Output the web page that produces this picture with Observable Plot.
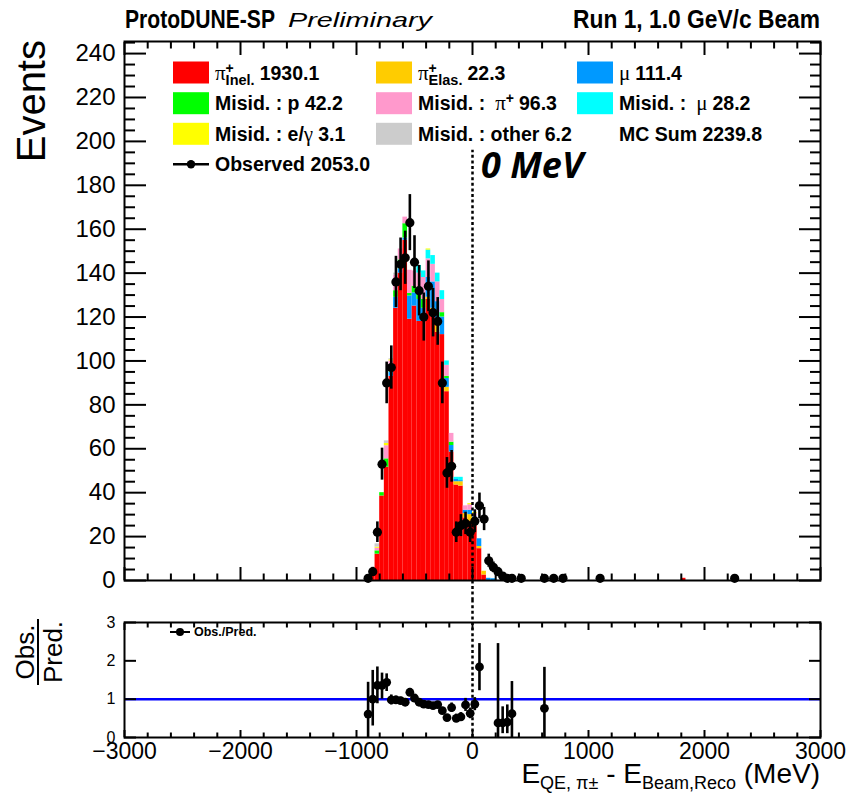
<!DOCTYPE html>
<html>
<head>
<meta charset="utf-8">
<script src="https://cdn.jsdelivr.net/npm/d3@7"></script>
<script src="https://cdn.jsdelivr.net/npm/@observablehq/plot@0.6"></script>
<style>
  html, body { margin: 0; padding: 0; background: #fff; }
  #fig { position: relative; width: 846px; height: 797px; overflow: hidden; background: #fff; }
  #fig svg { position: absolute; left: 0; }
</style>
</head>
<body>
<div id="fig"></div>
<script>
// ---- simulated events per 40 MeV bin (bin centres in MeV) ----
const mcBins   = [-900,-860,-820,-780,-740,-700,-660,-620,-580,-540,-500,-460,-420,-380,-340,-300,-260,-220,-180,-140,-100,-60,-20,20,60,100,140,180,1820];
const piInel   = [1.6,3.5,12,38.5,51.6,93,124,140,155,119,125,118,118,128,122,113,112,86,58.5,43.5,43,28.5,27,26,14.5,2.5,0,0,1];
const piElas   = [0,0,0,0,0,0,0,0,0,0,0,0,0,1,2,4,0,2,0,1.5,2,2,3,1.5,1,1.7,0,0,0];
const muon     = [0,0,0,0,0,2,5,2,1,10.6,6,10,6,9,12,10,8,4,3,1,0.5,1.5,2,1.5,3.5,0,1,0.8,0];
const misidP   = [0,0,1.5,1.5,3.8,2,3,4,6.5,1.2,3,3,4,0,0,0,2,1,1.5,0,0,0,0,0,0,0,0,0,0];
const misidPi  = [0,0,1.2,0,6,3,7,5,3,10.5,7,9,10,8.5,8,9,6,5,4,0,0,2,2.5,1.5,0,0,0,0,0];
const misidMu  = [0,0,0,0,0,0,0,0,0,0,0,3.5,3,4,4,4,4,2,0,1,1.5,0,0,0,0,0,0,0,0];
const misidEG  = [0,0,0.5,0,1,0.5,0,0,0,0,0,0,0,0.5,0,0,0,0,0,0,0,0,0.5,0.5,0,0,0,0,0];
const misidOth = [0,0.5,1.5,0,1.2,0.5,1,0,0,0,0,0,0,0,0,0,0,0,0,0,0,0,0,0,0,0,0,0,0];

const compKeys   = ["piInel","piElas","muon","misidP","misidPi","misidMu","misidEG","misidOth"];
const compSeries = [piInel, piElas, muon, misidP, misidPi, misidMu, misidEG, misidOth];
const compColors = ["#ff0000","#ffcc00","#0099ff","#00ff00","#ff99cc","#00ffff","#ffff00","#cccccc"];

// ---- observed events ----
const obsBins   = [-900,-860,-820,-780,-740,-700,-660,-620,-580,-540,-500,-460,-420,-380,-340,-300,-260,-220,-180,-140,-100,-60,-20,20,60,100,140,180,220,260,300,340,420,620,700,780,1100,2260];
const obsCounts = [1,4,22,53,90,97,136,144,147,163,145,132,120,134,122,118,90,49,52,22,25,26,22,27,34,28,9,6,4,2,1,1,1,1,1,1,1,1];

// ---- observed / predicted ratio ----
const ratioBins = [-900,-860,-820,-780,-740,-700,-660,-620,-580,-540,-500,-460,-420,-380,-340,-300,-260,-220,-180,-140,-100,-60,-20,20,60,220,260,300,340,620];
const ratioVal  = [0.61,1.0,1.36,1.36,1.44,0.98,0.98,0.96,0.92,1.18,1.03,0.92,0.87,0.86,0.83,0.86,0.70,0.52,0.78,0.50,0.54,0.85,0.63,0.87,1.84,0.38,0.38,0.40,0.62,0.76];
const ratioLo   = [0,0.3,0.88,1.0,1.2,0.85,0.88,0.87,0.84,1.08,0.94,0.84,0.79,0.78,0.75,0.78,0.62,0.44,0.66,0.39,0.43,0.68,0.49,0.70,1.22,0,0.1,0.1,0,0];
const ratioHi   = [1.44,1.75,1.84,1.68,1.66,1.11,1.08,1.05,1.0,1.28,1.12,1.0,0.95,0.94,0.91,0.94,0.78,0.60,0.90,0.61,0.65,1.02,0.77,1.04,2.45,2.45,0.8,0.85,1.46,1.83];

// ---- axis ticks ----
const xMajor = d3.range(-3000, 3001, 1000);
const xMinor = d3.range(-3000, 3001, 200).filter(v => v % 1000 !== 0);
const yMajor = d3.range(0, 241, 20);
const yMinor = d3.range(0, 246, 5).filter(v => v % 20 !== 0);
const rMajor = [0, 1, 2, 3];

const SANS  = "'Liberation Sans', Arial, Helvetica, sans-serif";
const SERIF = "'Liberation Serif', 'DejaVu Serif', serif";
const fmtMinus = d => d < 0 ? `\u2212${-d}` : `${d}`;
const fmtInt = d => `${d}`;

// long table for the stacked histogram
const mcTable = [];
mcBins.forEach((c, i) => compSeries.forEach((s, k) =>
  mcTable.push({x1: c - 20, x2: c + 20, n: s[i], comp: compKeys[k]})));
const obs = obsBins.map((x, i) => ({x, n: obsCounts[i]}));
const ratio = ratioBins.map((x, i) => ({x, r: ratioVal[i], lo: ratioLo[i], hi: ratioHi[i]}));

const blank = () => "";
const tickAxes = (lenX, lenXm, lenY, lenYm, yTicks, yMinTicks) => [
  Plot.axisX({anchor: "bottom", ticks: xMajor, tickSize: -lenX, tickFormat: blank, strokeWidth: 2, label: null}),
  Plot.axisX({anchor: "top", ticks: xMajor, tickSize: -lenX, tickFormat: blank, strokeWidth: 2, label: null}),
  Plot.axisX({anchor: "bottom", ticks: xMinor, tickSize: -lenXm, tickFormat: blank, strokeWidth: 2, label: null}),
  Plot.axisX({anchor: "top", ticks: xMinor, tickSize: -lenXm, tickFormat: blank, strokeWidth: 2, label: null}),
  Plot.axisY({anchor: "left", ticks: yTicks, tickSize: -lenY, tickFormat: blank, strokeWidth: 2, label: null}),
  Plot.axisY({anchor: "right", ticks: yTicks, tickSize: -lenY, tickFormat: blank, strokeWidth: 2, label: null}),
  ...(yMinTicks.length ? [
    Plot.axisY({anchor: "left", ticks: yMinTicks, tickSize: -lenYm, tickFormat: blank, strokeWidth: 2, label: null}),
    Plot.axisY({anchor: "right", ticks: yMinTicks, tickSize: -lenYm, tickFormat: blank, strokeWidth: 2, label: null})
  ] : [])
];

// ---- upper pad: stacked prediction and observed points ----
const mainPlot = Plot.plot({
  width: 846, height: 600,
  marginLeft: 124, marginRight: 26, marginTop: 41, marginBottom: 20,
  style: {fontFamily: SANS, background: "transparent", color: "black"},
  x: {domain: [-3000, 3000], axis: null},
  y: {domain: [0, 245.5], axis: null},
  color: {domain: compKeys, range: compColors},
  marks: [
    Plot.rectY(mcTable, {x1: "x1", x2: "x2", y: "n", fill: "comp", order: compKeys}),
    Plot.ruleX([0], {y1: -9.2, y2: 196, stroke: "black", strokeWidth: 2.5, strokeDasharray: "3,2.6"}),
    Plot.ruleX(obs, {x: "x", y1: d => d.n - Math.sqrt(d.n), y2: d => d.n + Math.sqrt(d.n), stroke: "black", strokeWidth: 2.6}),
    Plot.dot(obs, {x: "x", y: "n", r: 4.6, fill: "black", stroke: null}),
    ...tickAxes(13, 6.5, 22, 11, yMajor, yMinor),
    Plot.axisY({anchor: "left", ticks: yMajor, tickSize: 0, tickPadding: 9, fontSize: 24, tickFormat: fmtInt, label: null}),
    Plot.frame({stroke: "black", strokeWidth: 2})
  ]
});
mainPlot.style.top = "0px";

// ---- lower pad: ratio ----
const ratioPlot = Plot.plot({
  width: 846, height: 197,
  marginLeft: 124, marginRight: 26, marginTop: 22, marginBottom: 60,
  style: {fontFamily: SANS, background: "transparent", color: "black"},
  x: {domain: [-3000, 3000], axis: null},
  y: {domain: [0, 3], axis: null},
  marks: [
    Plot.ruleY([1], {stroke: "#0000ff", strokeWidth: 2.5}),
    Plot.ruleX([0], {y1: 0, y2: 3.6, stroke: "black", strokeWidth: 2.5, strokeDasharray: "3,2.6"}),
    Plot.ruleX(ratio, {x: "x", y1: "lo", y2: "hi", stroke: "black", strokeWidth: 2.6}),
    Plot.dot(ratio, {x: "x", y: "r", r: 4.4, fill: "black", stroke: null}),
    ...tickAxes(7, 4.5, 12, 6, rMajor, []),
    Plot.axisY({anchor: "left", ticks: rMajor, tickSize: 0, tickPadding: 9, fontSize: 16, tickFormat: fmtInt, label: null}),
    Plot.axisX({anchor: "bottom", ticks: xMajor, tickSize: 0, tickPadding: 5, fontSize: 23, tickFormat: fmtMinus, label: null}),
    Plot.frame({stroke: "black", strokeWidth: 2})
  ]
});
ratioPlot.style.top = "600px";

const fig = document.getElementById("fig");
fig.append(mainPlot, ratioPlot);

// ---- text helpers ----
function rich(parent, x, y, parts) {
  let cx = x, pending = 0;
  for (const p of parts) {
    const t = parent.append("text").attr("x", cx).attr("y", y + (p.dy || 0))
      .attr("text-anchor", "start")
      .attr("font-family", p.serif ? SERIF : SANS)
      .attr("font-weight", p.serif ? "normal" : "bold")
      .attr("font-size", p.size || 19.5).attr("fill", "black").text(p.t);
    const w = t.node().getComputedTextLength();
    if (p.keep) pending = w;
    else { cx += Math.max(w, pending) + (p.gap || 0); pending = 0; }
  }
}

const upper = d3.select(mainPlot);
const titles = upper.append("g").attr("text-anchor", "start").attr("font-family", SANS).attr("fill", "black");
titles.append("text").attr("x", 125).attr("y", 28).attr("font-weight", "bold")
  .attr("font-size", 25).attr("textLength", 150).attr("lengthAdjust", "spacingAndGlyphs").text("ProtoDUNE-SP");
titles.append("text").attr("x", 288).attr("y", 27).attr("font-style", "italic")
  .attr("font-size", 21).attr("textLength", 144).attr("lengthAdjust", "spacingAndGlyphs").text("Preliminary");
titles.append("text").attr("x", 573).attr("y", 28).attr("font-weight", "bold")
  .attr("font-size", 25).attr("textLength", 247).attr("lengthAdjust", "spacingAndGlyphs").text("Run 1, 1.0 GeV/c Beam");
titles.append("text").attr("transform", "translate(45,40) rotate(-90)").attr("text-anchor", "end")
  .attr("font-size", 40).text("Events");
titles.append("text").attr("x", 481).attr("y", 178).attr("font-family", "'Open Sans', sans-serif")
  .attr("font-weight", "bold").attr("font-style", "italic").attr("font-size", 36).text("0 MeV");

// legend
const colX = [173, 376, 577], rowY = [72.5, 103.2, 133.8, 164.3], sw = 36, sh = 22, txtOff = 42;
const leg = upper.append("g").attr("text-anchor", "start");
const swatch = (c, r, k) => leg.append("rect").attr("x", colX[c]).attr("y", rowY[r] - sh / 2)
  .attr("width", sw).attr("height", sh).attr("fill", compColors[compKeys.indexOf(k)]);
const entries = [
  [0, 0, "piInel", [{t: "\u03c0", serif: true, size: 21}, {t: "+", size: 14, dy: -7, keep: true}, {t: "Inel.", size: 14.5, dy: 5, gap: 5}, {t: "1930.1"}]],
  [0, 1, "misidP", [{t: "Misid. : p 42.2"}]],
  [0, 2, "misidEG", [{t: "Misid. : e/"}, {t: "\u03b3", serif: true, size: 21, gap: 5}, {t: "3.1"}]],
  [1, 0, "piElas", [{t: "\u03c0", serif: true, size: 21}, {t: "+", size: 14, dy: -7, keep: true}, {t: "Elas.", size: 14.5, dy: 5, gap: 5}, {t: "22.3"}]],
  [1, 1, "misidPi", [{t: "Misid. :", gap: 10}, {t: "\u03c0", serif: true, size: 21}, {t: "+", size: 14, dy: -7, gap: 5}, {t: "96.3"}]],
  [1, 2, "misidOth", [{t: "Misid. : other 6.2"}]],
  [2, 0, "muon", [{t: "\u03bc", serif: true, size: 21, gap: 5}, {t: "111.4"}]],
  [2, 1, "misidMu", [{t: "Misid. :", gap: 10}, {t: "\u03bc", serif: true, size: 21, gap: 5}, {t: "28.2"}]]
];
for (const [c, r, k, parts] of entries) {
  swatch(c, r, k);
  rich(leg, colX[c] + txtOff, rowY[r] + 7, parts);
}
rich(leg, colX[2] + txtOff, rowY[2] + 7, [{t: "MC Sum 2239.8"}]);
leg.append("line").attr("x1", colX[0]).attr("x2", colX[0] + sw).attr("y1", rowY[3]).attr("y2", rowY[3])
  .attr("stroke", "black").attr("stroke-width", 2.5);
leg.append("circle").attr("cx", colX[0] + sw / 2).attr("cy", rowY[3]).attr("r", 4.2).attr("fill", "black");
rich(leg, colX[0] + txtOff, rowY[3] + 7, [{t: "Observed 2053.0"}]);

// lower pad texts
const lowerSel = d3.select(ratioPlot);
const lowerTxt = lowerSel.append("g").attr("text-anchor", "start").attr("font-family", SANS).attr("fill", "black");
lowerTxt.append("line").attr("x1", 170).attr("x2", 190).attr("y1", 32).attr("y2", 32).attr("stroke", "black").attr("stroke-width", 2);
lowerTxt.append("circle").attr("cx", 180).attr("cy", 32).attr("r", 4).attr("fill", "black");
lowerTxt.append("text").attr("x", 194).attr("y", 36).attr("font-weight", "bold")
  .attr("font-size", 12.5).text("Obs./Pred.");
const frac = lowerTxt.append("g").attr("transform", "translate(38,52) rotate(-90)");
frac.append("text").attr("x", 0).attr("y", -4).attr("text-anchor", "middle").attr("font-size", 26).text("Obs.");
frac.append("line").attr("x1", -33).attr("x2", 33).attr("y1", 0).attr("y2", 0).attr("stroke", "black").attr("stroke-width", 2);
frac.append("text").attr("x", 0).attr("y", 24).attr("text-anchor", "middle").attr("font-size", 26).text("Pred.");
const xt = lowerTxt.append("text").attr("x", 820).attr("y", 183).attr("text-anchor", "end").attr("font-size", 28);
xt.append("tspan").text("E");
xt.append("tspan").attr("dy", 6).attr("font-size", 18).text("QE, \u03c0\u00b1");
xt.append("tspan").attr("dy", -6).text(" - E");
xt.append("tspan").attr("dy", 6).attr("font-size", 18).text("Beam,Reco");
xt.append("tspan").attr("dy", -6).text(" (MeV)");
</script>
</body>
</html>
